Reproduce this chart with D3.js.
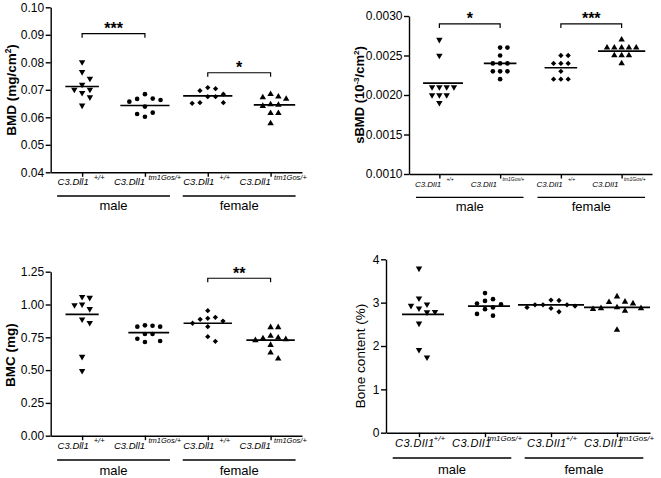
<!DOCTYPE html>
<html><head><meta charset="utf-8">
<script src="https://cdn.jsdelivr.net/npm/d3@7"></script>
<style>
body{margin:0;background:#fff}
svg{display:block}
text{font-family:"Liberation Sans",Arial,Helvetica,sans-serif;fill:#000}
</style>
</head><body>
<svg id="chart" width="661" height="478"></svg>
<script>
// ---------- data ----------
const categories = ["male +/+", "male tm1Gos/+", "female +/+", "female tm1Gos/+"];
const genotypes = ["+/+", "tm1Gos/+", "+/+", "tm1Gos/+"];
const sexes = ["male", "female"];
const strain = "C3.Dll1";

// Panel A: BMD (mg/cm2)
const bmdMaleWT   = [0.0801, 0.0765, 0.0741, 0.0719, 0.0701, 0.0701, 0.0689, 0.0673, 0.0643];
const bmdMaleTm   = [0.0684, 0.0668, 0.0667, 0.0663, 0.0657, 0.0639, 0.0617, 0.0612, 0.0602];
const bmdFemaleWT = [0.0708, 0.0704, 0.0697, 0.0684, 0.0675, 0.0675, 0.0653, 0.0653, 0.0651];
const bmdFemaleTm = [0.0684, 0.0675, 0.0672, 0.0667, 0.0647, 0.0645, 0.0641, 0.0615, 0.0615, 0.0578];
const bmdMeans    = [0.0712, 0.0643, 0.0678, 0.0645];
const bmdTicks    = [0.04, 0.05, 0.06, 0.07, 0.08, 0.09, 0.10];
const bmdSig      = [{from: 0, to: 1, level: 0.0904, label: "***"}, {from: 2, to: 3, level: 0.0762, label: "*"}];

// Panel B: sBMD (10^-3/cm2)
const sbmdMaleWT   = [0.0027, 0.0025, 0.0021, 0.0021, 0.0021, 0.0021, 0.0020, 0.0020, 0.0020, 0.0019];
const sbmdMaleTm   = [0.0026, 0.0026, 0.0025, 0.0024, 0.0024, 0.0024, 0.0023, 0.0023, 0.0023, 0.0022];
const sbmdFemaleWT = [0.0025, 0.0025, 0.0024, 0.0024, 0.0024, 0.0023, 0.0022, 0.0022, 0.0022];
const sbmdFemaleTm = [0.0027, 0.0026, 0.0026, 0.0026, 0.0026, 0.0026, 0.0025, 0.0025, 0.0025, 0.0024];
const sbmdMeans    = [0.00215, 0.0024, 0.002345, 0.002555];
const sbmdTicks    = [0.0010, 0.0015, 0.0020, 0.0025, 0.0030];
const sbmdSig      = [{from: 0, to: 1, level: 0.0029, label: "*"}, {from: 2, to: 3, level: 0.0029, label: "***"}];

// Panel C: BMC (mg)
const bmcMaleWT   = [1.059, 1.052, 1.001, 0.996, 0.966, 0.887, 0.861, 0.602, 0.495];
const bmcMaleTm   = [0.841, 0.838, 0.831, 0.831, 0.775, 0.775, 0.739, 0.722, 0.714];
const bmcFemaleWT = [0.953, 0.902, 0.895, 0.887, 0.874, 0.857, 0.831, 0.755, 0.719];
const bmcFemaleTm = [0.826, 0.826, 0.760, 0.747, 0.742, 0.735, 0.727, 0.691, 0.633, 0.587];
const bmcMeans    = [0.925, 0.785, 0.857, 0.729];
const bmcTicks    = [0.00, 0.25, 0.50, 0.75, 1.00, 1.25];
const bmcSig      = [{from: 2, to: 3, level: 1.20, label: "**"}];

// Panel D: Bone content (%)
const boneMaleWT   = [3.79, 3.10, 2.96, 2.93, 2.87, 2.79, 2.78, 2.52, 1.91, 1.74];
const boneMaleTm   = [3.22, 3.08, 3.04, 2.98, 2.96, 2.89, 2.85, 2.74, 2.70];
const boneFemaleWT = [3.06, 3.05, 2.95, 2.95, 2.95, 2.92, 2.89, 2.87, 2.79];
const boneFemaleTm = [3.14, 3.02, 3.01, 2.98, 2.89, 2.87, 2.87, 2.85, 2.81, 2.37];
const boneMeans    = [2.73, 2.92, 2.95, 2.89];
const boneTicks    = [0, 1, 2, 3, 4];
const boneSig      = [];

// ---------- layout ----------
const svg = d3.select("#chart");
const FONT = '"Liberation Sans",Arial,Helvetica,sans-serif';

const panels = [
  {series: [bmdMaleWT, bmdMaleTm, bmdFemaleWT, bmdFemaleTm], means: bmdMeans, ticks: bmdTicks, sig: bmdSig,
   fmt: d3.format(".2f"), x0: 50.7, x1: 302, yt: 7.3, yb: 172.3,
   title: [["BMD (mg/cm", 0], ["2", 1], [")", 0]], titleX: 16, titleY: 90, titleSize: 13.5, titleBold: true,
   step: 7.8, groupLineY: 196, groupExt: 25, groupLabelY: 210,
   lab: {mainSize: 9.5, mainLS: 0, supSize: 7.5, mainStart: [-24.5, -31], supStart: [11.6, 3.5], mainDy: 13, supDy: 7.5}},
  {series: [sbmdMaleWT, sbmdMaleTm, sbmdFemaleWT, sbmdFemaleTm], means: sbmdMeans, ticks: sbmdTicks, sig: sbmdSig,
   fmt: d3.format(".4f"), x0: 409, x1: 652, yt: 16, yb: 174,
   title: [["sBMD (10", 0], ["-3", 1], ["/cm", 0], ["2", 1], [")", 0]], titleX: 364, titleY: 95, titleSize: 13, titleBold: true,
   step: 7.3, groupLineY: 197.3, groupExt: 23.4, groupLabelY: 211,
   lab: {mainSize: 8, mainLS: 0, supSize: 5, mainStart: [-24.5, -29.5], supStart: [7, 2.3], mainDy: 12.5, supDy: 7}},
  {series: [bmcMaleWT, bmcMaleTm, bmcFemaleWT, bmcFemaleTm], means: bmcMeans, ticks: bmcTicks, sig: bmcSig,
   fmt: d3.format(".2f"), x0: 50.7, x1: 302, yt: 271.7, yb: 435.7,
   title: [["BMC (mg)", 0]], titleX: 15, titleY: 355, titleSize: 13.5, titleBold: true,
   step: 7.6, groupLineY: 460, groupExt: 25, groupLabelY: 475,
   lab: {mainSize: 9.5, mainLS: 0, supSize: 7.5, mainStart: [-24.5, -31], supStart: [11.6, 3.5], mainDy: 13, supDy: 7.5}},
  {series: [boneMaleWT, boneMaleTm, boneFemaleWT, boneFemaleTm], means: boneMeans, ticks: boneTicks, sig: boneSig,
   fmt: d3.format("d"), x0: 386, x1: 650, yt: 259.3, yb: 432.7,
   title: [["Bone content (%)", 0]], titleX: 364.5, titleY: 356, titleSize: 13.5, titleBold: false,
   step: 8, groupLineY: 458, groupExt: 26.3, groupLabelY: 474,
   lab: {mainSize: 11, mainLS: 0.5, supSize: 8, mainStart: [-24, -33], supStart: [14.5, 2.2], mainDy: 14, supDy: 7.8}}
];

const shapes = [
  {type: d3.symbolTriangle, size: 18, rot: 180},
  {type: d3.symbolCircle, size: 17, rot: 0},
  {type: d3.symbolSquare, size: 14, rot: 45},
  {type: d3.symbolTriangle, size: 18, rot: 0}
];

function dodge(vals, y, thr) {
  const placed = [];
  return vals.map(v => {
    const py = y(v);
    for (let k = 0; ; k++) {
      const s = k === 0 ? 0 : (k % 2 ? (k + 1) / 2 : -k / 2);
      if (!placed.some(p => p.s === s && Math.abs(p.py - py) < thr)) {
        placed.push({s, py});
        return {v, py, s};
      }
    }
  });
}

panels.forEach(cfg => {
  const g = svg.append("g");
  const x = d3.scalePoint().domain(categories).range([cfg.x0, cfg.x1]).padding(0.5);
  const y = d3.scaleLinear().domain([cfg.ticks[0], cfg.ticks[cfg.ticks.length - 1]]).range([cfg.yb, cfg.yt]);

  // y axis
  const ya = g.append("g").attr("transform", `translate(${cfg.x0},0)`)
    .call(d3.axisLeft(y).tickValues(cfg.ticks).tickFormat(cfg.fmt).tickSize(5).tickSizeOuter(0).tickPadding(1.5));
  ya.selectAll("path,line").attr("stroke", "#000").attr("stroke-width", 1.4);
  ya.selectAll("text").style("font-family", FONT).style("font-size", "12px").attr("fill", "#000");

  // x axis
  const xa = g.append("g").attr("transform", `translate(0,${cfg.yb})`)
    .call(d3.axisBottom(x).tickSize(4.5).tickSizeOuter(0).tickFormat(""));
  xa.selectAll("path,line").attr("stroke", "#000").attr("stroke-width", 1.4);

  // category labels
  categories.forEach((c, i) => {
    const t = x(c), type = i % 2;
    g.append("text").attr("x", t + cfg.lab.mainStart[type]).attr("y", cfg.yb + cfg.lab.mainDy)
      .style("font-size", cfg.lab.mainSize + "px").style("font-style", "italic")
      .style("letter-spacing", cfg.lab.mainLS + "px").text(strain);
    g.append("text").attr("x", t + cfg.lab.supStart[type]).attr("y", cfg.yb + cfg.lab.supDy)
      .style("font-size", cfg.lab.supSize + "px").style("font-style", "italic").text(genotypes[i]);
  });

  // group lines + sex labels
  sexes.forEach((s, j) => {
    const a = x(categories[2 * j]) - cfg.groupExt, b = x(categories[2 * j + 1]) + cfg.groupExt;
    g.append("line").attr("x1", a).attr("x2", b).attr("y1", cfg.groupLineY).attr("y2", cfg.groupLineY)
      .attr("stroke", "#000").attr("stroke-width", 1.3);
    g.append("text").attr("x", (a + b) / 2).attr("y", cfg.groupLabelY).attr("text-anchor", "middle")
      .style("font-size", "13px").text(s);
  });

  // points + means
  cfg.series.forEach((vals, i) => {
    const cx = x(categories[i]);
    const pts = dodge(vals, y, 7.5);
    const sh = shapes[i];
    const sym = d3.symbol().type(sh.type).size(sh.size);
    g.append("g").selectAll("path").data(pts).join("path")
      .attr("d", sym)
      .attr("transform", d => `translate(${cx + d.s * cfg.step},${d.py}) rotate(${sh.rot})`)
      .attr("fill", "#000");
    const xs = pts.map(d => cx + d.s * cfg.step);
    const m = y(cfg.means[i]);
    g.append("line").attr("x1", d3.min(xs) - 9).attr("x2", d3.max(xs) + 9)
      .attr("y1", m).attr("y2", m).attr("stroke", "#000").attr("stroke-width", 1.7);
  });

  // significance brackets
  cfg.sig.forEach(s => {
    const a = x(categories[s.from]), b = x(categories[s.to]), yy = y(s.level);
    g.append("path").attr("d", `M${a},${yy + 4}V${yy}H${b}V${yy + 4}`)
      .attr("fill", "none").attr("stroke", "#000").attr("stroke-width", 1.2);
    g.append("text").attr("x", (a + b) / 2).attr("y", yy + 0.5).attr("text-anchor", "middle")
      .style("font-size", "16px").style("font-weight", "bold").text(s.label);
  });

  // y title
  const tt = g.append("text").attr("transform", `translate(${cfg.titleX},${cfg.titleY}) rotate(-90)`)
    .attr("text-anchor", "middle").style("font-size", cfg.titleSize + "px")
    .style("font-weight", cfg.titleBold ? "bold" : "normal");
  let up = false;
  cfg.title.forEach(([txt, sup]) => {
    const ts = tt.append("tspan").text(txt);
    if (sup && !up) { ts.attr("dy", -5).style("font-size", (cfg.titleSize * 0.62) + "px"); up = true; }
    else if (!sup && up) { ts.attr("dy", 5); up = false; }
  });
});
</script>
</body></html>
